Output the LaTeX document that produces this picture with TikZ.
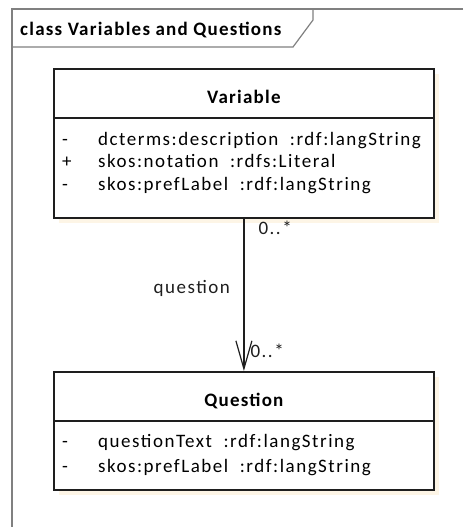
\documentclass[tikz,border=0pt]{standalone}
\usepackage{fontspec}
\setmainfont{Carlito}[LetterSpace=8]
\usetikzlibrary{arrows.meta}

\definecolor{umlshadow}{HTML}{FDF5E6}
\definecolor{umlline}{HTML}{1E1E1E}
\definecolor{framegray}{HTML}{808080}

\newcommand{\umlfont}{\fontsize{19}{22.5}\selectfont}
\newcommand{\umlbold}{\umlfont\bfseries\addfontfeature{LetterSpace=6.5}}

\tikzset{
  classbox/.style={draw=umlline, line width=1.8pt, fill=white, minimum width=380pt, inner sep=0pt, anchor=north west},
  classhead/.style={classbox, minimum height=49pt, text height=21pt, text depth=0pt, font=\umlbold},
  attrs/.style={anchor=base west, inner sep=0pt, align=left},
  mult/.style={inner sep=0pt, anchor=base west}
}

\begin{document}
\begin{tikzpicture}[x=1pt, y=-1pt, font=\umlfont]
    \useasboundingbox (0,0) rectangle (463,527);
    % Frame
    \draw[framegray, line width=1.5pt] (463,9) -- (12,9) -- (12,527);
    \draw[framegray, line width=1.2pt] (313,9) -- (313,20) -- (293,47) -- (12,47);
    \node[anchor=base west, inner sep=0pt, font=\umlbold] (title) at (20,36) {class Variables and Questions};
    % Shadows
    \fill[umlshadow] (59,74) rectangle (439,223);
    \fill[umlshadow] (59,377) rectangle (439,495);
    % Variable
    \node[classhead] (varHead) at (53,68) {Variable};
    \node[classbox, minimum height=100pt] (varBody) at (53,117) {};
    \node[attrs] (varAttrs) at (62,145) {%
        \begin{tabular}[t]{@{}p{36pt}@{}l@{}}
        - & dcterms:description \ :rdf:langString\\
        + & skos:notation \ :rdfs:Literal\\
        - & skos:prefLabel \ :rdf:langString
        \end{tabular}};
    % Question
    \node[classhead] (quHead) at (53,371) {Question};
    \node[classbox, minimum height=69pt] (quBody) at (53,420) {};
    \node[attrs] (quAttrs) at (62,447) {%
        \begin{tabular}[t]{@{}p{36pt}@{}l@{}}
        - & questionText \ :rdf:langString\\[2.5pt]
        - & skos:prefLabel \ :rdf:langString
        \end{tabular}};
    % Association
    \draw[umlline, line width=1.2pt, -{Straight Barb[length=28pt, width=16pt, line width=1.2pt]}] (varBody.south) -- (quHead.north)
        node[pos=0.1, mult, xshift=14pt] (srcMult) {0..*}
        node[pos=0.49, anchor=base east, xshift=-10pt] (assocName) {question}
        node[pos=0.91, mult, xshift=6pt] (dstMult) {0..*};
\end{tikzpicture}
\end{document}
